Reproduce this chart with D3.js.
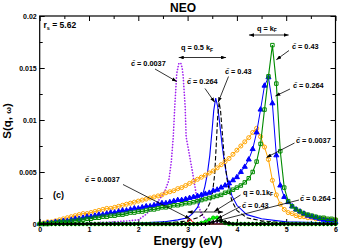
<!DOCTYPE html>
<html>
<head>
<meta charset="utf-8">
<script src="https://cdn.jsdelivr.net/npm/d3@7/dist/d3.min.js"></script>
<style>
body { margin: 0; background: #fff; }
svg { display: block; font-family: "Liberation Sans", Arial, sans-serif; }
</style>
</head>
<body>
<div id="chart"></div>
<script>
'use strict';

// energy grid of the marker curves (eV)
var energy = [0,0.08,0.16,0.24,0.32,0.4,0.48,0.56,0.64,0.72,
    0.8,0.88,0.96,1.04,1.12,1.2,1.28,1.36,1.44,1.52,
    1.6,1.68,1.76,1.84,1.92,2,2.08,2.16,2.24,2.32,
    2.4,2.48,2.56,2.64,2.72,2.8,2.88,2.96,3.04,3.12,
    3.2,3.28,3.36,3.44,3.52,3.6,3.68,3.76,3.84,3.92,
    4,4.08,4.16,4.24,4.32,4.4,4.48,4.56,4.64,4.72,
    4.8,4.88,4.96,5.04,5.12,5.2,5.28,5.36,5.44,5.52,
    5.6,5.68,5.76,5.84,5.92,6];

// q = kF
var kfC0037 = [0.0000,0.0001,0.0002,0.0002,0.0003,0.0004,0.0005,0.0006,0.0007,0.0008,
    0.0009,0.0010,0.0010,0.0011,0.0012,0.0013,0.0014,0.0015,0.0015,0.0016,
    0.0017,0.0018,0.0019,0.0020,0.0021,0.0022,0.0023,0.0024,0.0025,0.0026,
    0.0027,0.0028,0.0030,0.0031,0.0032,0.0034,0.0035,0.0037,0.0039,0.0041,
    0.0043,0.0045,0.0047,0.0049,0.0051,0.0054,0.0057,0.0060,0.0063,0.0067,
    0.0071,0.0075,0.0079,0.0083,0.0088,0.0092,0.0084,0.0074,0.0062,0.0042,
    0.0028,0.0019,0.0014,0.0011,0.0010,0.0008,0.0007,0.0007,0.0006,0.0006,
    0.0005,0.0005,0.0005,0.0004,0.0004,0.0004];
var kfC0264 = [0.0000,0.0000,0.0001,0.0001,0.0002,0.0002,0.0003,0.0003,0.0004,0.0005,
    0.0005,0.0006,0.0007,0.0007,0.0008,0.0009,0.0009,0.0010,0.0011,0.0011,
    0.0012,0.0013,0.0013,0.0014,0.0015,0.0015,0.0016,0.0017,0.0017,0.0018,
    0.0019,0.0020,0.0020,0.0021,0.0022,0.0023,0.0023,0.0024,0.0025,0.0026,
    0.0027,0.0028,0.0029,0.0030,0.0032,0.0033,0.0035,0.0037,0.0039,0.0042,
    0.0045,0.0050,0.0055,0.0062,0.0072,0.0088,0.0110,0.0133,0.0141,0.0116,
    0.0066,0.0037,0.0026,0.0021,0.0017,0.0014,0.0012,0.0010,0.0008,0.0007,
    0.0006,0.0005,0.0004,0.0003,0.0003,0.0002];
var kfC043 = [0.0000,0.0000,0.0000,0.0001,0.0001,0.0002,0.0002,0.0002,0.0003,0.0003,
    0.0004,0.0004,0.0005,0.0005,0.0006,0.0006,0.0007,0.0007,0.0008,0.0008,
    0.0009,0.0009,0.0010,0.0011,0.0011,0.0012,0.0012,0.0013,0.0014,0.0014,
    0.0015,0.0016,0.0016,0.0017,0.0018,0.0018,0.0019,0.0020,0.0020,0.0021,
    0.0022,0.0023,0.0024,0.0025,0.0026,0.0027,0.0028,0.0030,0.0031,0.0033,
    0.0035,0.0037,0.0040,0.0044,0.0050,0.0060,0.0077,0.0110,0.0142,0.0172,
    0.0135,0.0070,0.0035,0.0022,0.0017,0.0014,0.0012,0.0010,0.0009,0.0008,
    0.0007,0.0006,0.0006,0.0005,0.0005,0.0004];

// q = 0.1 kF
var q01C043 = [0,0,0,0,0,0,0,0,0,0,
    0,0,0,0,0,0,0,0,0,0,
    0,0,0,0,0,0,0,0,0,0,
    0,0,0,0,0,0,0,0,0,0,
    0,0.0001,0.0002,0.0004,0.0006,0.0006,0.0003,0.0001,0,0,
    0,0,0,0,0,0,0,0,0,0,
    0,0,0,0,0,0,0,0,0,0,
    0,0,0,0,0,0];
var q01C0264 = [0,0,0,0,0,0,0,0,0,0,
    0,0,0,0,0,0,0,0,0,0,
    0,0,0,0,0,0,0,0,0,0,
    0,0,0,0,0,0,0,0,0,0,
    0,0,0,0.0001,0.0002,0.0003,0.0003,0.0002,0.0001,0,
    0,0,0,0,0,0,0,0,0,0,
    0,0,0,0,0,0,0,0,0,0,
    0,0,0,0,0,0];
var q01E0037 = [0, 2.9, 3.0, 3.05, 3.1, 3.2, 6];
var q01C0037 = [0, 0, 0.0002, 0.0005, 0.0002, 0, 0];

// q = 0.5 kF (lines only)
var q05E0037 = [0,1.0,1.5,1.8,2.0,2.15,2.3,2.45,2.55,2.62,2.67,2.71,2.74,2.78,2.82,2.86,2.89,2.91,2.95,2.97,3.05,3.11,3.17,3.23,3.3,3.4,3.6,6];
var q05C0037 = [0,0.0001,0.0002,0.0003,0.0004,0.0009,0.0016,0.0025,0.0033,0.0042,0.0060,0.0084,0.0113,0.0145,0.0154,0.0155,0.0150,0.0142,0.0113,0.0084,0.0063,0.0047,0.0030,0.0016,0.0008,0.0003,0.0001,0];
var q05E0264 = [0,1.0,1.5,2.0,2.5,2.8,3.0,3.1,3.2,3.3,3.35,3.4,3.45,3.5,3.53,3.57,3.61,3.65,3.7,3.75,3.8,3.9,4.0,4.2,4.5,5.0,6.0];
var q05C0264 = [0,0,0.0001,0.0001,0.0002,0.0004,0.0006,0.0010,0.0016,0.0027,0.0036,0.0048,0.0066,0.0092,0.0109,0.0121,0.0113,0.0097,0.0076,0.0058,0.0045,0.0027,0.0018,0.0009,0.0005,0.0002,0.0001];
var q05E043 = [0,2.5,2.8,3.0,3.2,3.3,3.4,3.45,3.5,3.55,3.58,3.61,3.64,3.67,3.7,3.74,3.8,3.85,3.9,4.0,4.2,4.5,5.0,6.0];
var q05C043 = [0,0.0001,0.0002,0.0003,0.0006,0.0009,0.0015,0.0020,0.0028,0.0048,0.0075,0.0103,0.0117,0.0108,0.0090,0.0066,0.0043,0.0031,0.0022,0.0013,0.0006,0.0003,0.0001,0];

var xTicks = [0,1,2,3,4,5,6];
var yTicks = [0,0.005,0.01,0.015,0.02];
var yTickLabels = ["0","0.005","0.01","0.015","0.02"];

var width = 340, height = 249;
var svg = d3.select("#chart").append("svg")
    .attr("width", width).attr("height", height);

var x = d3.scaleLinear().domain([0,6]).range([39.7,335.5]);
var y = d3.scaleLinear().domain([0,0.02]).range([224,16]);

// arrow heads
var defs = svg.append("defs");
defs.append("marker").attr("id","ah")
    .attr("viewBox","0 0 8 6").attr("refX",8).attr("refY",3)
    .attr("markerWidth",5).attr("markerHeight",3.8).attr("markerUnits","userSpaceOnUse")
    .attr("orient","auto-start-reverse")
    .append("path").attr("d","M0,0L8,3L0,6z").attr("fill","black");

// axes, ticks point inward
function styleAxis(g) {
    g.select(".domain").remove();
    g.selectAll("line").attr("stroke","black").attr("stroke-width",1);
    g.selectAll("text").attr("font-size","7px").attr("font-weight","bold")
        .attr("font-family","Liberation Sans, Arial, sans-serif").attr("fill","black");
}
var xMinor = [0.5,1.5,2.5,3.5,4.5,5.5];
var yMinor = [0.0025,0.0075,0.0125,0.0175];

svg.append("g").attr("transform","translate(0,224)")
    .call(d3.axisBottom(x).tickValues(xTicks).tickSize(-5).tickSizeOuter(0).tickPadding(3).tickFormat(d3.format("d")))
    .call(styleAxis);
svg.append("g").attr("transform","translate(0,224)")
    .call(d3.axisBottom(x).tickValues(xMinor).tickSize(-3).tickSizeOuter(0).tickFormat(""))
    .call(styleAxis);
svg.append("g").attr("transform","translate(0,16)")
    .call(d3.axisTop(x).tickValues(xTicks).tickSize(-5).tickSizeOuter(0).tickFormat(""))
    .call(styleAxis);
svg.append("g").attr("transform","translate(0,16)")
    .call(d3.axisTop(x).tickValues(xMinor).tickSize(-3).tickSizeOuter(0).tickFormat(""))
    .call(styleAxis);
svg.append("g").attr("transform","translate(39.7,0)")
    .call(d3.axisLeft(y).tickValues(yTicks).tickSize(-5).tickSizeOuter(0).tickPadding(3)
        .tickFormat(function(d,i){return yTickLabels[i];}))
    .call(styleAxis);
svg.append("g").attr("transform","translate(39.7,0)")
    .call(d3.axisLeft(y).tickValues(yMinor).tickSize(-3).tickSizeOuter(0).tickFormat(""))
    .call(styleAxis);
svg.append("g").attr("transform","translate(335.5,0)")
    .call(d3.axisRight(y).tickValues(yTicks).tickSize(-5).tickSizeOuter(0).tickFormat(""))
    .call(styleAxis);
svg.append("g").attr("transform","translate(335.5,0)")
    .call(d3.axisRight(y).tickValues(yMinor).tickSize(-3).tickSizeOuter(0).tickFormat(""))
    .call(styleAxis);

var plot = svg.append("g");

var line = d3.line().x(function(d){return x(d[0]);}).y(function(d){return y(d[1]);});
function pairs(es, vs) { return es.map(function(e,i){ return [e, vs[i]]; }); }

function drawLine(es, vs, color, w, dash) {
    plot.append("path").datum(pairs(es,vs))
        .attr("d", line).attr("fill","none")
        .attr("stroke", color).attr("stroke-width", w)
        .attr("stroke-dasharray", dash || null)
        .attr("stroke-linecap", dash === "0.1,2.8" ? "round" : null);
}

function drawMarkers(es, vs, type, fill, stroke, size) {
    plot.append("g").selectAll("path").data(pairs(es,vs)).enter().append("path")
        .attr("transform", function(d){ return "translate(" + x(d[0]) + "," + y(d[1]) + ")"; })
        .attr("d", d3.symbol().type(type).size(size))
        .attr("fill", fill).attr("stroke", stroke).attr("stroke-width", 1);
}

// q = 0.5 kF
drawLine(q05E0037, q05C0037, "#a020f0", 1.7, "0.1,2.8");
drawLine(q05E0264, q05C0264, "#0000ff", 1.1);
drawLine(q05E043, q05C043, "black", 1.1, "4.5,2.2");

// q = kF
drawLine(energy, kfC0037, "#ffa500", 1);
drawMarkers(energy, kfC0037, d3.symbolCircle, "none", "#ffa500", 13);
drawLine(energy, kfC0264, "#0000ff", 1);
drawMarkers(energy, kfC0264, d3.symbolTriangle, "#0000ff", "#0000ff", 11);
drawLine(energy, kfC043, "#008b00", 1.1);
drawMarkers(energy, kfC043, d3.symbolSquare, "none", "#008b00", 12);

// q = 0.1 kF
drawLine(q01E0037, q01C0037, "#ff0000", 1);
drawLine(energy, q01C043, "#00ff00", 1);
drawMarkers(energy, q01C043, d3.symbolCircle, "#00ff00", "#00c000", 10);
drawLine(energy, q01C0264, "black", 1);
drawMarkers(energy, q01C0264, d3.symbolCross, "black", "none", 9);

// frame
svg.append("rect").attr("x",39.7).attr("y",16)
    .attr("width",335.5-39.7).attr("height",208)
    .attr("fill","none").attr("stroke","black").attr("stroke-width",1.2);

// annotations
function arrow(x1,y1,x2,y2,both) {
    svg.append("line")
        .attr("x1",x1).attr("y1",y1).attr("x2",x2).attr("y2",y2)
        .attr("stroke","black").attr("stroke-width",0.8)
        .attr("marker-end","url(#ah)")
        .attr("marker-start", both ? "url(#ah)" : null);
}
function ctext(xp, yp, val) {
    svg.append("text").attr("x",xp).attr("y",yp)
        .attr("font-size","7.3px").attr("font-weight","bold")
        .text("c\u0303 = " + val);
}
function qtext(xp, yp, pre) {
    var t = svg.append("text").attr("x",xp).attr("y",yp)
        .attr("font-size","7.3px").attr("font-weight","bold");
    t.append("tspan").text(pre);
    t.append("tspan").attr("font-size","5px").attr("dy",1.8).text("F");
}

qtext(257, 30.5, "q = k");
arrow(x(4.245), 35, x(5.05), 35, true);
ctext(292, 49, "0.43");
arrow(289, 50.5, x(4.8), y(0.0158));
ctext(293, 87.5, "0.264");
arrow(290, 89, x(4.78), y(0.0123));

qtext(181, 50, "q = 0.5 k");
arrow(x(2.82), 57.5, x(3.78), 57.5, true);
ctext(131, 66, "0.0037");
arrow(155, 69, x(2.78), y(0.0137));
ctext(187, 84, "0.264");
arrow(205, 88.5, x(3.55), y(0.0117));
ctext(225, 73.5, "0.43");
arrow(228.5, 76.5, x(3.62), y(0.0117));

ctext(296, 143, "0.0037");
arrow(294.5, 143, x(4.6), y(0.0064));

qtext(243, 194.5, "q = 0.1k");
arrow(x(3.0), 212, x(3.72), 212, true);
arrow(240.5, 195, x(3.54), y(0.0012));
ctext(242, 208, "0.43");
arrow(240.5, 206.5, x(3.6), y(0.0005));
ctext(300, 200.5, "0.264");
arrow(299, 200, x(3.6), y(0.0003));
ctext(85, 182, "0.0037");
arrow(123, 184.5, x(3.05), y(0.0005));

var rs = svg.append("text").attr("x",43.5).attr("y",28)
    .attr("font-size","8.5px").attr("font-weight","bold");
rs.append("tspan").text("r");
rs.append("tspan").attr("font-size","5.5px").attr("dy",2).text("s");
rs.append("tspan").attr("dy",-2).text(" = 5.62");

svg.append("text").attr("x",53).attr("y",198)
    .attr("font-size","9px").attr("font-weight","bold").text("(c)");

// titles
svg.append("text").attr("x",183).attr("y",11.5).attr("text-anchor","middle")
    .attr("font-size","12px").attr("font-weight","bold").text("NEO");
svg.append("text").attr("x",188).attr("y",245).attr("text-anchor","middle")
    .attr("font-size","12.4px").attr("font-weight","bold").text("Energy (eV)");
var yl = svg.append("text").attr("transform","translate(10.5,121) rotate(-90)")
    .attr("text-anchor","middle").attr("font-size","11.5px").attr("font-weight","bold");
yl.append("tspan").text("S(q, ");
yl.append("tspan").attr("font-size","8px").text("\u03c9");
yl.append("tspan").text(")");
</script>
</body>
</html>
